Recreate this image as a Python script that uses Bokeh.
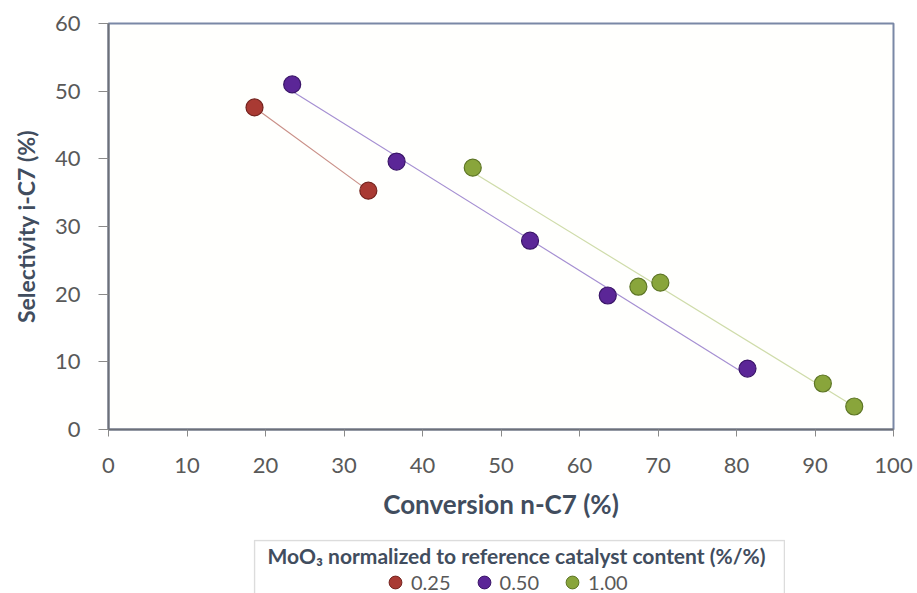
import numpy as np
from bokeh.plotting import figure
from bokeh.layouts import column, row
from bokeh.models import Range1d, Legend, LegendItem, BoxAnnotation, Label, FixedTicker, Spacer
from bokeh.embed import file_html
from bokeh.resources import INLINE

# ---- data ----
series_labels = ["0.25", "0.50", "1.00"]
conv_025 = [18.6, 33.1]
sel_025 = [47.6, 35.3]
conv_050 = [23.4, 36.7, 53.7, 63.6, 81.4]
sel_050 = [51.0, 39.6, 27.9, 19.8, 9.0]
conv_100 = [46.4, 67.5, 70.3, 91.0, 95.0]
sel_100 = [38.7, 21.1, 21.7, 6.8, 3.4]
x_ticks = [0, 10, 20, 30, 40, 50, 60, 70, 80, 90, 100]
y_ticks = [0, 10, 20, 30, 40, 50, 60]
legend_title = "MoO\u2083 normalized to reference catalyst content (%/%)"

fills = ["#a93a33", "#5b2697", "#89a53b"]
edges = ["#74231e", "#3a1568", "#5d7525"]
trend = ["#c98f87", "#a58fd2", "#cfdcaa"]

FONT = "Lato"
AX_COL = "#414d5e"
TICK_COL = "#595959"

p = figure(width=917, height=539, output_backend="svg", toolbar_location=None,
           x_range=Range1d(0, 100), y_range=Range1d(0, 60),
           min_border_left=108, min_border_right=24, min_border_top=23, min_border_bottom=110)

p.xgrid.visible = False
p.ygrid.visible = False
p.outline_line_color = "#7a88a6"
p.outline_line_width = 2
p.background_fill_color = "#fffffd"

p.xaxis.ticker = FixedTicker(ticks=x_ticks)
p.yaxis.ticker = FixedTicker(ticks=y_ticks)
p.xaxis.minor_tick_line_color = None
p.yaxis.minor_tick_line_color = None
for ax in (p.xaxis[0], p.yaxis[0]):
    ax.axis_line_color = "#6d7078"
    ax.axis_line_width = 2
    ax.major_tick_line_color = "#8a8a8a"
    ax.major_tick_in = 0
    ax.major_label_text_font = FONT
    ax.major_label_text_font_size = "22px"
    ax.major_label_text_color = TICK_COL
    ax.axis_label_text_font = FONT
    ax.axis_label_text_font_style = "bold"
    ax.axis_label_text_color = AX_COL

p.xaxis.axis_label_text_font_size = "26px"
p.yaxis.axis_label_text_font_size = "23px"
p.xaxis.major_tick_out = 7
p.yaxis.major_tick_out = 10
p.xaxis.major_label_standoff = 21
p.yaxis.major_label_standoff = 18
p.xaxis.axis_label = "Conversion n-C7 (%)"
p.yaxis.axis_label = "Selectivity i-C7 (%)"
p.xaxis.axis_label_standoff = 12
p.yaxis.axis_label_standoff = 12

series = [(conv_025, sel_025), (conv_050, sel_050), (conv_100, sel_100)]
for i, (xs, ys) in enumerate(series):
    k, b = np.polyfit(xs, ys, 1)
    lx = np.array([min(xs), max(xs)])
    p.line(lx, k * lx + b, line_color=trend[i], line_width=1.2)
for i, (xs, ys) in enumerate(series):
    p.scatter(xs, ys, marker="circle", size=17, fill_color=fills[i],
              line_color=edges[i], line_width=1.2)

# ---- legend panel ----
q = figure(width=532, height=54, output_backend="svg", toolbar_location=None,
           x_range=Range1d(-2, -1), y_range=Range1d(-2, -1),
           x_axis_location=None, y_axis_location=None, min_border=0)
q.xgrid.visible = False
q.ygrid.visible = False
q.outline_line_color = None

box = BoxAnnotation(left=1, right=531, top=53, bottom=-20,
                    left_units="screen", right_units="screen",
                    top_units="screen", bottom_units="screen",
                    fill_alpha=0, line_color="#8c8c8c", line_width=1.5)
q.add_layout(box)
title = Label(x=263, y=38, x_units="screen", y_units="screen", text=legend_title,
              text_align="center", text_baseline="middle", text_font=FONT,
              text_font_style="bold", text_font_size="21px", text_color=AX_COL)
q.add_layout(title)

# legend glyph renderers: same data, lying outside this panel's (empty) range
leg_rs = []
for i, (xs, ys) in enumerate(series):
    leg_rs.append(q.scatter(xs, ys, marker="circle", size=13, fill_color=fills[i],
                            line_color=edges[i], line_width=1.0))

legend = Legend(items=[LegendItem(label=series_labels[i], renderers=[leg_rs[i]]) for i in range(3)],
                orientation="horizontal", location=(126, -5),
                border_line_alpha=0, background_fill_alpha=0, padding=0, margin=0,
                spacing=17, glyph_width=32, glyph_height=32, label_standoff=0,
                label_text_font=FONT, label_text_font_size="20px", label_text_color=TICK_COL)
q.add_layout(legend, "center")

layout = column(p, row(Spacer(width=253), q))
open("out.html", "w").write(file_html(layout, INLINE))
